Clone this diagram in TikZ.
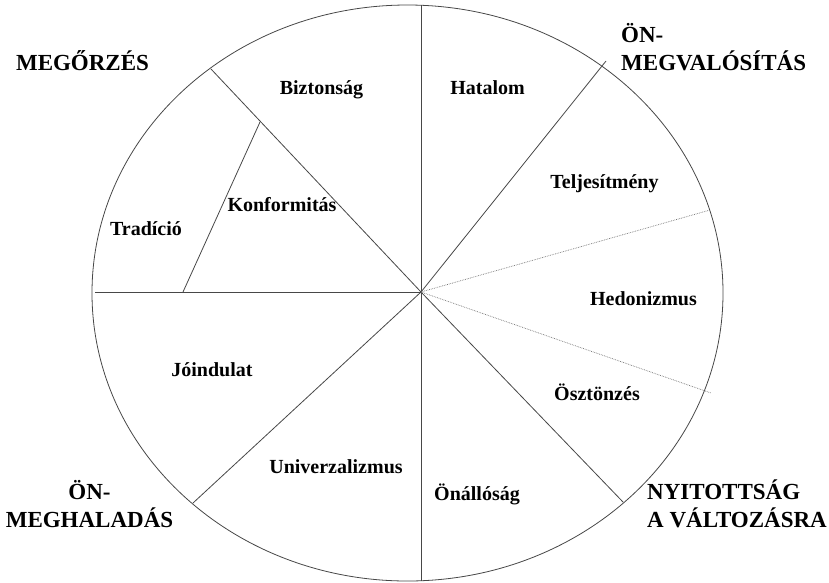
\documentclass[tikz,border=0pt]{standalone}
\usepackage{fontspec}
\setmainfont{Liberation Serif}

\begin{document}
\begin{tikzpicture}[
                x=1pt, y=-1pt,
                spoke/.style={draw=black!72, line width=0.8pt},
                dotspoke/.style={draw=black!55, line width=0.7pt, densely dotted},
                lbl/.style={font=\fontsize{20}{22}\selectfont\bfseries, anchor=base, inner sep=0pt},
                grp/.style={font=\fontsize{23}{28}\selectfont\bfseries, inner sep=0pt},
            ]
            \useasboundingbox (0,0) rectangle (829,582);
            \coordinate (c) at (421,292);
            \coordinate (top) at (421,5);
            \coordinate (bot) at (421,581);
            \coordinate (lft) at (95,292);
            \coordinate (ur) at (606,61);
            \coordinate (hup) at (710,210);
            \coordinate (hdn) at (711,393);
            \coordinate (lr) at (623,502);
            \coordinate (ll) at (193,503);
            \coordinate (ul) at (211,69);
            \coordinate (kfup) at (260,122);
            \coordinate (kfdn) at (183,292);
            % kor
            \draw[spoke] (407.5,293) ellipse [x radius=315.5, y radius=288];
            % kuellok
            \draw[spoke] (top) -- (bot);
            \draw[spoke] (lft) -- (c);
            \draw[spoke] (c) -- (ur);
            \draw[spoke] (c) -- (lr);
            \draw[spoke] (c) -- (ll);
            \draw[spoke] (c) -- (ul);
            \draw[spoke] (kfup) -- (kfdn);
            \draw[dotspoke] (c) -- (hup);
            \draw[dotspoke] (c) -- (hdn);
            % ertekek
            \node[lbl] (bizt) at (321.5,94) {Biztonság};
            \node[lbl] (hat) at (487.5,94) {Hatalom};
            \node[lbl] (telj) at (604.5,188) {Teljesítmény};
            \node[lbl] (konf) at (282,211) {Konformitás};
            \node[lbl] (trad) at (146,235) {Tradíció};
            \node[lbl] (hed) at (643.5,305) {Hedonizmus};
            \node[lbl] (join) at (212,376) {Jóindulat};
            \node[lbl] (oszt) at (597,400) {Ösztönzés};
            \node[lbl] (univ) at (336,473) {Univerzalizmus};
            \node[lbl] (onal) at (477,500) {Önállóság};
            % dimenziok (base = utolso sor alapvonala)
            \node[grp, anchor=base] (megor) at (82.5,70) {MEGŐRZÉS};
            \node[grp, anchor=base west, align=left] (onmv) at (621,70) {ÖN-\\MEGVALÓSÍTÁS};
            \node[grp, anchor=base, align=center] (onmh) at (89.5,527) {ÖN-\\MEGHALADÁS};
            \node[grp, anchor=base west, align=left] (nyit) at (647,527) {NYITOTTSÁG\\A VÁLTOZÁSRA};
        \end{tikzpicture}
\end{document}
